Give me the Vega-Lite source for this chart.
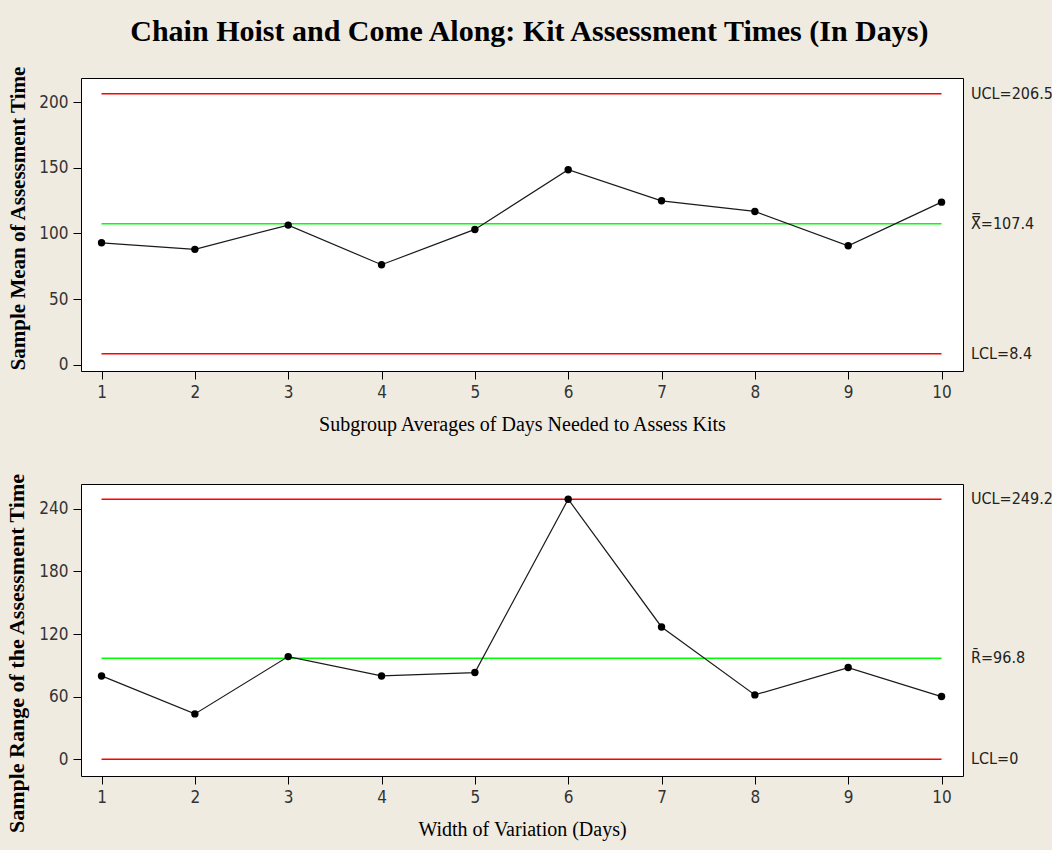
{
  "$schema": "https://vega.github.io/schema/vega-lite/v6.json",
  "background": "#EFEBE1",
  "padding": {"left": 5, "top": 16, "right": 100, "bottom": 50},
  "title": {
    "text": "Chain Hoist and Come Along: Kit Assessment Times (In Days)",
    "font": "Liberation Serif",
    "fontSize": 30,
    "fontWeight": "bold",
    "color": "#000000",
    "anchor": "middle",
    "offset": 18
  },
  "spacing": 37,
  "config": {
    "view": {"stroke": "#000000", "strokeWidth": 1, "fill": "#FFFFFF"},
    "axis": {
      "grid": false,
      "domain": false,
      "tickColor": "#000000",
      "tickSize": 8,
      "labelFont": "Liberation Sans Narrow, DejaVu Sans Condensed, DejaVu Sans",
      "labelFontSize": 17,
      "labelColor": "#333333",
      "labelPadding": 5,
      "titleFont": "Liberation Serif",
      "titleColor": "#000000"
    }
  },
  "vconcat": [
    {
      "width": 882,
      "height": 293,
      "layer": [
        {
          "data": {
            "values": [
              {"name": "UCL", "value": 206.5, "kind": "limit"},
              {"name": "Center", "value": 107.4, "kind": "center"},
              {"name": "LCL", "value": 8.4, "kind": "limit"}
            ]
          },
          "mark": {"type": "rule", "strokeWidth": 1.6},
          "encoding": {
            "x": {
              "datum": 1,
              "type": "quantitative",
              "scale": {"domain": [0.78, 10.23], "nice": false, "zero": false},
              "axis": {
                "values": [1, 2, 3, 4, 5, 6, 7, 8, 9, 10],
                "format": "d",
                "title": "Subgroup Averages of Days Needed to Assess Kits",
                "titleFontSize": 20,
                "titleFontWeight": "normal",
                "titlePadding": 14
              }
            },
            "x2": {"datum": 10},
            "y": {
              "field": "value",
              "type": "quantitative",
              "scale": {"domain": [-4.8, 218.5], "nice": false, "zero": false},
              "axis": {
                "values": [0, 50, 100, 150, 200],
                "title": "Sample Mean of Assessment Time",
                "titleFontSize": 21,
                "titleFontWeight": "bold",
                "titlePadding": 10,
                "titleY": 140
              }
            },
            "color": {
              "field": "kind",
              "type": "nominal",
              "scale": {"domain": ["limit", "center"], "range": ["#FF0000", "#00FF00"]},
              "legend": null
            }
          }
        },
        {
          "data": {
            "values": [
              {"value": 206.5, "label": "UCL=206.5"},
              {"value": 107.4, "label": "X\u033f=107.4"},
              {"value": 8.4, "label": "LCL=8.4"}
            ]
          },
          "mark": {"type": "text", "align": "left", "baseline": "middle", "dx": 8, "font": "Liberation Sans Narrow, DejaVu Sans Condensed, DejaVu Sans", "fontSize": 16, "color": "#222222"},
          "encoding": {
            "x": {"datum": 10.23, "type": "quantitative"},
            "y": {"field": "value", "type": "quantitative"},
            "text": {"field": "label", "type": "nominal"}
          }
        },
        {
          "data": {
            "values": [
              {"subgroup": 1, "value": 92.9},
              {"subgroup": 2, "value": 87.9},
              {"subgroup": 3, "value": 106.4},
              {"subgroup": 4, "value": 76.2},
              {"subgroup": 5, "value": 103.1},
              {"subgroup": 6, "value": 148.6},
              {"subgroup": 7, "value": 124.9},
              {"subgroup": 8, "value": 116.8},
              {"subgroup": 9, "value": 90.6},
              {"subgroup": 10, "value": 123.9}
            ]
          },
          "layer": [
            {
              "mark": {"type": "line", "color": "#1a1a1a", "strokeWidth": 1.2},
              "encoding": {
                "x": {"field": "subgroup", "type": "quantitative"},
                "y": {"field": "value", "type": "quantitative"}
              }
            },
            {
              "mark": {"type": "point", "filled": true, "color": "#000000", "size": 55, "opacity": 1},
              "encoding": {
                "x": {"field": "subgroup", "type": "quantitative"},
                "y": {"field": "value", "type": "quantitative"}
              }
            }
          ]
        }
      ]
    },
    {
      "width": 882,
      "height": 292,
      "layer": [
        {
          "data": {
            "values": [
              {"name": "UCL", "value": 249.2, "kind": "limit"},
              {"name": "Center", "value": 96.8, "kind": "center"},
              {"name": "LCL", "value": 0, "kind": "limit"}
            ]
          },
          "mark": {"type": "rule", "strokeWidth": 1.6},
          "encoding": {
            "x": {
              "datum": 1,
              "type": "quantitative",
              "scale": {"domain": [0.78, 10.23], "nice": false, "zero": false},
              "axis": {
                "values": [1, 2, 3, 4, 5, 6, 7, 8, 9, 10],
                "format": "d",
                "title": "Width of Variation (Days)",
                "titleFontSize": 20,
                "titleFontWeight": "normal",
                "titlePadding": 14
              }
            },
            "x2": {"datum": 10},
            "y": {
              "field": "value",
              "type": "quantitative",
              "scale": {"domain": [-16, 263.8], "nice": false, "zero": false},
              "axis": {
                "values": [0, 60, 120, 180, 240],
                "title": "Sample Range of the Assessment Time",
                "titleFontSize": 22,
                "titleFontWeight": "bold",
                "titlePadding": 10,
                "titleY": 169
              }
            },
            "color": {
              "field": "kind",
              "type": "nominal",
              "scale": {"domain": ["limit", "center"], "range": ["#FF0000", "#00FF00"]},
              "legend": null
            }
          }
        },
        {
          "data": {
            "values": [
              {"value": 249.2, "label": "UCL=249.2"},
              {"value": 96.8, "label": "R\u0304=96.8"},
              {"value": 0, "label": "LCL=0"}
            ]
          },
          "mark": {"type": "text", "align": "left", "baseline": "middle", "dx": 8, "font": "Liberation Sans Narrow, DejaVu Sans Condensed, DejaVu Sans", "fontSize": 16, "color": "#222222"},
          "encoding": {
            "x": {"datum": 10.23, "type": "quantitative"},
            "y": {"field": "value", "type": "quantitative"},
            "text": {"field": "label", "type": "nominal"}
          }
        },
        {
          "data": {
            "values": [
              {"subgroup": 1, "value": 79.9},
              {"subgroup": 2, "value": 43.5},
              {"subgroup": 3, "value": 98.4},
              {"subgroup": 4, "value": 79.9},
              {"subgroup": 5, "value": 83.1},
              {"subgroup": 6, "value": 249.2},
              {"subgroup": 7, "value": 126.8},
              {"subgroup": 8, "value": 61.7},
              {"subgroup": 9, "value": 87.9},
              {"subgroup": 10, "value": 60.1}
            ]
          },
          "layer": [
            {
              "mark": {"type": "line", "color": "#1a1a1a", "strokeWidth": 1.2},
              "encoding": {
                "x": {"field": "subgroup", "type": "quantitative"},
                "y": {"field": "value", "type": "quantitative"}
              }
            },
            {
              "mark": {"type": "point", "filled": true, "color": "#000000", "size": 55, "opacity": 1},
              "encoding": {
                "x": {"field": "subgroup", "type": "quantitative"},
                "y": {"field": "value", "type": "quantitative"}
              }
            }
          ]
        }
      ]
    }
  ]
}
